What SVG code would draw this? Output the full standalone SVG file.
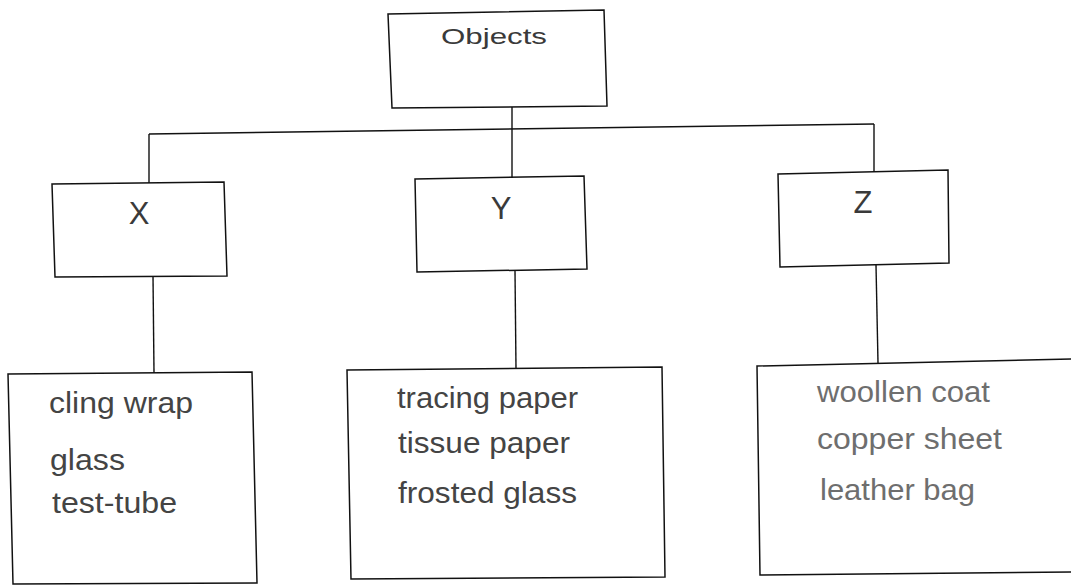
<svg xmlns="http://www.w3.org/2000/svg" width="1071" height="587" viewBox="0 0 1071 587">
  <style>
    .box { fill: none; stroke: #111; stroke-width: 1.5; stroke-linejoin: miter; }
    .link { fill: none; stroke: #111; stroke-width: 1.4; }
    .head { font-family: "Liberation Sans", Arial, sans-serif; fill: #3a3a3a; }
    .item { font-family: "Liberation Sans", Arial, sans-serif; font-size: 29px; fill: #444; }
    .item.light { fill: #6e6e6e; }
  </style>
  <rect width="1071" height="587" fill="#fff"/>

  <!-- tree branches -->
  <g id="connectors">
    <path class="link" d="M149,134 L874,124"/>
    <path class="link" d="M512,107 L512,178"/>
    <path class="link" d="M149,134 L149,183"/>
    <path class="link" d="M874,124 L874,172"/>
    <path class="link" d="M153,276 L154,373"/>
    <path class="link" d="M515,271 L516,369"/>
    <path class="link" d="M876,265 L878,363"/>
  </g>

  <g id="objects">
    <path class="box" d="M388,14 L604,10 L607,106 L392,108 Z"/>
    <text class="head" x="441" y="44" font-size="22" textLength="106" lengthAdjust="spacingAndGlyphs">Objects</text>
  </g>

  <g id="x">
    <path class="box" d="M52,184 L224,182 L227,276 L55,277 Z"/>
    <text class="head" x="139" y="224" font-size="31" text-anchor="middle">X</text>
  </g>

  <g id="y">
    <path class="box" d="M415,179 L584,176 L587,269 L417,272 Z"/>
    <text class="head" x="501" y="219" font-size="31" text-anchor="middle">Y</text>
  </g>

  <g id="z">
    <path class="box" d="M778,174 L948,170 L949,263 L780,267 Z"/>
    <text class="head" x="863" y="213" font-size="31" text-anchor="middle">Z</text>
  </g>

  <g id="x-items">
    <path class="box" d="M8,374 L252,372 L257,583 L13,584 Z"/>
    <text class="item" x="49" y="413" textLength="144" lengthAdjust="spacingAndGlyphs">cling wrap</text>
    <text class="item" x="50" y="470" textLength="75" lengthAdjust="spacingAndGlyphs">glass</text>
    <text class="item" x="52" y="513" textLength="125" lengthAdjust="spacingAndGlyphs">test-tube</text>
  </g>

  <g id="y-items">
    <path class="box" d="M347,370 L662,367 L665,577 L351,579 Z"/>
    <text class="item" x="397" y="408" textLength="181" lengthAdjust="spacingAndGlyphs">tracing paper</text>
    <text class="item" x="398" y="453" textLength="172" lengthAdjust="spacingAndGlyphs">tissue paper</text>
    <text class="item" x="398" y="503" textLength="179" lengthAdjust="spacingAndGlyphs">frosted glass</text>
  </g>

  <g id="z-items">
    <path class="box" d="M1075,359 L757,366 L760,575 L1075,572"/>
    <text class="item light" x="817" y="402" textLength="173" lengthAdjust="spacingAndGlyphs">woollen coat</text>
    <text class="item light" x="817" y="449" textLength="185" lengthAdjust="spacingAndGlyphs">copper sheet</text>
    <text class="item light" x="820" y="500" textLength="155" lengthAdjust="spacingAndGlyphs">leather bag</text>
  </g>
</svg>
